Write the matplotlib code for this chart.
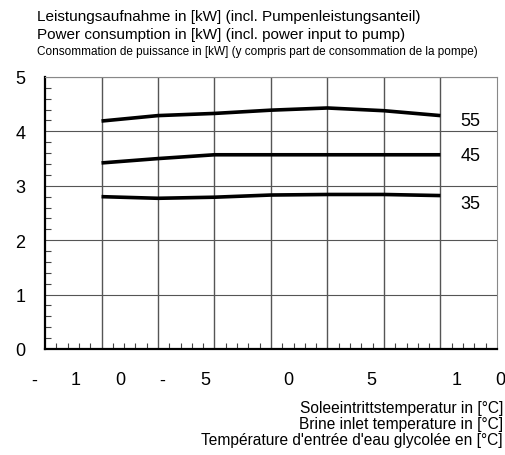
import matplotlib
matplotlib.use("Agg")
import matplotlib.pyplot as plt
from matplotlib.ticker import MultipleLocator

plt.rcParams["font.family"] = ["Liberation Sans", "DejaVu Sans"]

# brine inlet temperature points (°C)
brine_temp = [-15, -10, -5, 0, 5, 10, 15]

# power consumption (kW) per flow temperature
power_35 = [2.80, 2.77, 2.79, 2.83, 2.84, 2.84, 2.82]
power_45 = [3.42, 3.50, 3.57, 3.57, 3.57, 3.57, 3.57]
power_55 = [4.19, 4.29, 4.33, 4.39, 4.43, 4.38, 4.29]

series_names = ["55", "45", "35"]
series_label_y = [4.2, 3.56, 2.68]

# x grid positions (°C)
xgrid = [-15, -10, -5, 0, 5, 10, 15]

# the x tick labels in the source come out as scattered characters
xtick_chars = ["-", "1", "0", "-", "5", "0", "5", "1", "0"]
xtick_char_pos = [-21.0, -17.3, -13.3, -9.6, -5.8, 1.5, 8.9, 16.4, 20.3]

fig = plt.figure(figsize=(5.06, 4.56), dpi=100)
ax = fig.add_axes([0.089, 0.2325, 0.893, 0.5965])

ax.set_xlim(-20, 20)
ax.set_ylim(0, 5)

ax.vlines(xgrid, 0, 5, colors="#555555", linewidths=1.0, zorder=2)

for y in (power_55, power_45, power_35):
    ax.plot(brine_temp, y, color="black", linewidth=2.6, solid_capstyle="butt", zorder=3)

ax.xaxis.set_major_locator(MultipleLocator(5))
ax.xaxis.set_minor_locator(MultipleLocator(1))
ax.yaxis.set_major_locator(MultipleLocator(1))
ax.yaxis.set_minor_locator(MultipleLocator(0.2))
ax.tick_params(which="both", direction="in", color="#444444")
ax.tick_params(which="major", length=0)
ax.tick_params(which="minor", length=4, width=0.8)
ax.tick_params(axis="x", labelbottom=False)
ax.tick_params(axis="y", labelsize=13, pad=14)
ax.set_axisbelow(True)
ax.yaxis.grid(True, which="major", color="#555555", linewidth=0.8)

for side in ("top", "right"):
    ax.spines[side].set_color("#888888")
    ax.spines[side].set_linewidth(0.8)
for side in ("left", "bottom"):
    ax.spines[side].set_color("black")
    ax.spines[side].set_linewidth(1.6)

for name, ly in zip(series_names, series_label_y):
    ax.text(16.8, ly, name, fontsize=13, va="center", ha="left")

for ch, xp in zip(xtick_chars, xtick_char_pos):
    ax.text(xp, -0.57, ch, fontsize=13, ha="center", va="center", clip_on=False)

# titles at the top
fig.text(0.073, 0.962, "Leistungsaufnahme in [kW] (incl. Pumpenleistungsanteil)",
         fontsize=11, va="center")
fig.text(0.073, 0.923, "Power consumption in [kW] (incl. power input to pump)",
         fontsize=11, va="center")
fig.text(0.073, 0.886,
         "Consommation de puissance in [kW] (y compris part de consommation de la pompe)",
         fontsize=8.5, va="center")

# x axis title, right aligned under the chart
fig.text(0.994, 0.105, "Soleeintrittstemperatur in [°C]", fontsize=11.2, ha="right", va="center")
fig.text(0.994, 0.070, "Brine inlet temperature in [°C]", fontsize=11.2, ha="right", va="center")
fig.text(0.994, 0.035, "Température d'entrée d'eau glycolée en [°C]", fontsize=11.2,
         ha="right", va="center")

plt.savefig("out.png", dpi=100)
